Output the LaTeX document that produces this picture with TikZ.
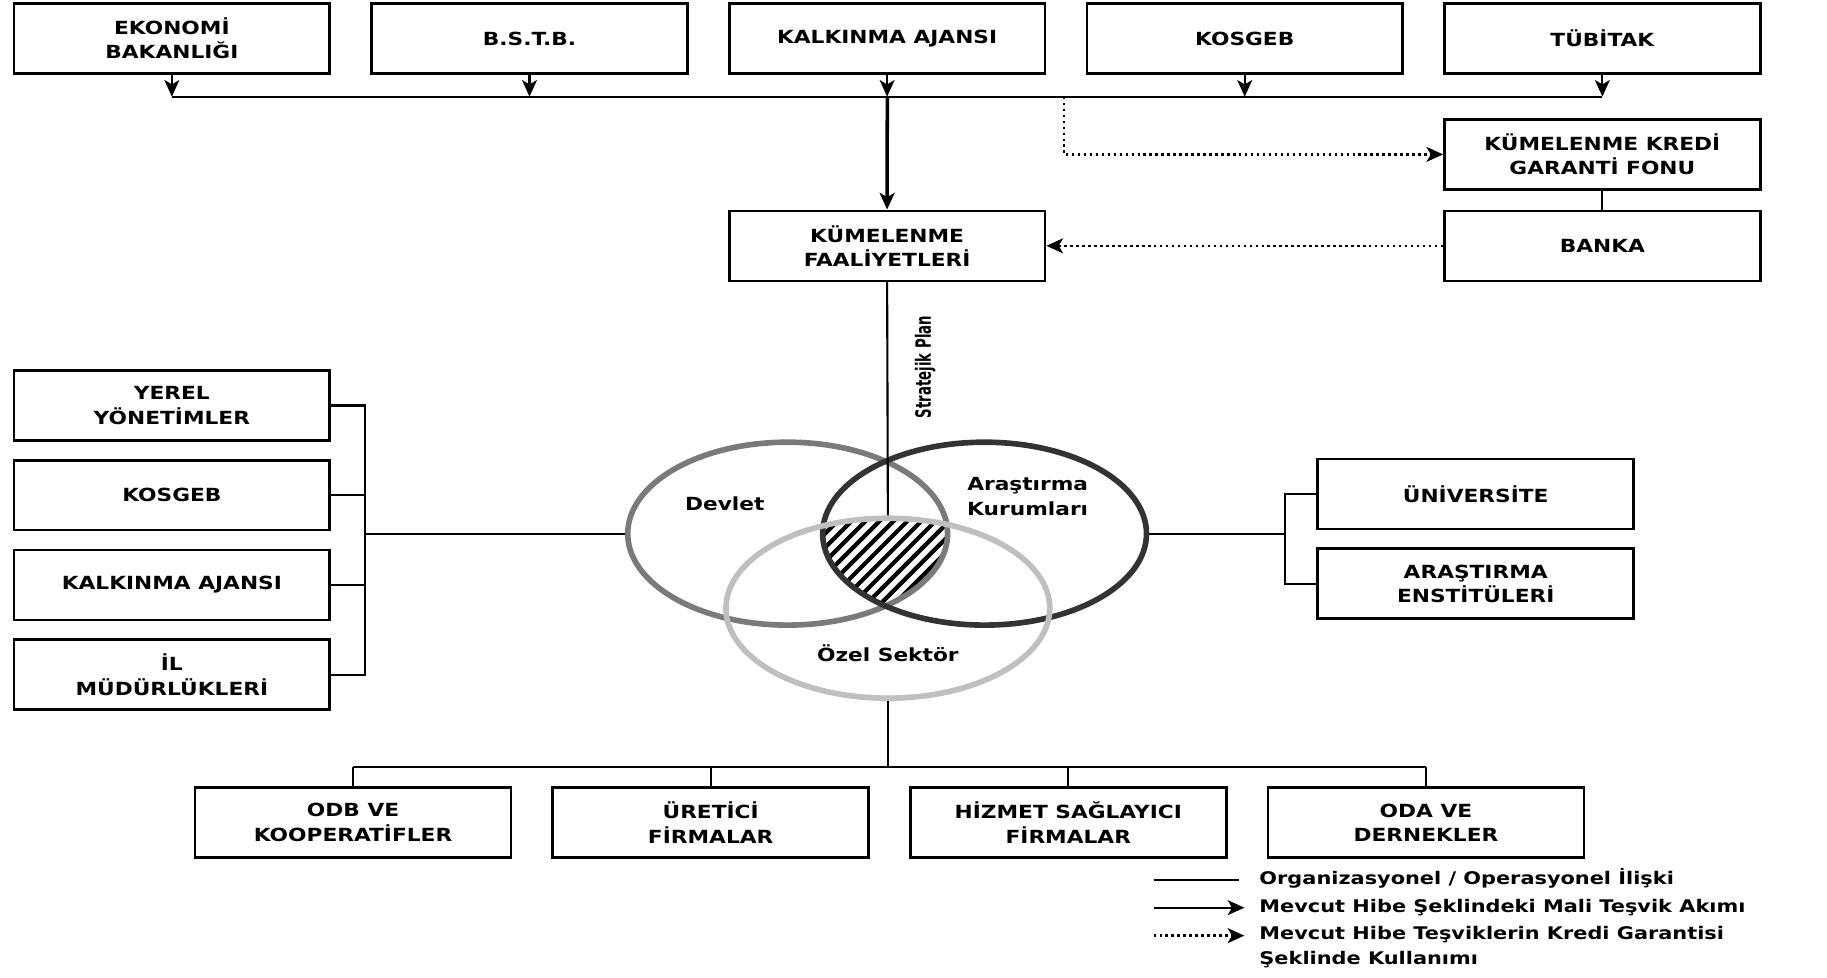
\documentclass[tikz,border=0pt]{standalone}
\usepackage{fontspec}
\newfontfamily\boxfont[FakeStretch=1.2]{DejaVu Sans}
\newfontfamily\planfont[FakeStretch=0.63]{DejaVu Sans}
\usetikzlibrary{arrows.meta,positioning,shapes.geometric}

\begin{document}
\begin{tikzpicture}[x=0.02331cm,y=-0.02331cm,line width=1.2pt,
>={Stealth[length=9.5pt,width=8.5pt,inset=2.5pt]},node distance=7.156cm]
\tikzset{orgbox/.style={draw,line width=1.5pt,minimum width=6.32cm,minimum height=1.4cm,align=center,inner sep=2pt,font=\boxfont\bfseries\fontsize{10.3}{13.9}\selectfont},
venn/.style={ellipse,draw,line width=3.2pt,minimum width=6.4cm,minimum height=3.66cm,inner sep=0pt},
vennlbl/.style={align=center,font=\boxfont\bfseries\fontsize{10.3}{13.9}\selectfont},
legend/.style={anchor=west,inner sep=0pt,text height=1.6ex,text depth=0.45ex,font=\boxfont\bfseries\fontsize{9.9}{12}\selectfont}}

\useasboundingbox (0,0) rectangle (1568,839);

% ust sira
\node[orgbox] (eko) at (147.5,33) {EKONOMİ\\BAKANLIĞI};
\node[orgbox] (bstb) [right of=eko] {B.S.T.B.};
\node[orgbox] (kalk) [right of=bstb] {KALKINMA AJANSI};
\node[orgbox] (kosgeb) [right of=kalk] {KOSGEB};
\node[orgbox] (tubitak) [right of=kosgeb] {TÜBİTAK};

\node[orgbox] (kf) [below of=kalk,node distance=4.15cm] {KÜMELENME\\FAALİYETLERİ};
\node[orgbox] (kkgf) [below of=tubitak,node distance=2.32cm] {KÜMELENME KREDİ\\GARANTİ FONU};
\node[orgbox] (banka) [below of=tubitak,node distance=4.15cm] {BANKA};

% sol ve sag
\node[orgbox] (yerel) at (147.5,348) {YEREL\\YÖNETİMLER};
\node[orgbox] (kosgebil) [below of=yerel,node distance=1.795cm] {KOSGEB};
\node[orgbox] (kalkil) [below of=kosgebil,node distance=1.795cm] {KALKINMA AJANSI};
\node[orgbox] (ilmud) [below of=kalkil,node distance=1.795cm] {İL\\MÜDÜRLÜKLERİ};

\node[orgbox] (univ) at (1266.5,424) {ÜNİVERSİTE};
\node[orgbox] (enst) [below of=univ,node distance=1.795cm] {ARAŞTIRMA\\ENSTİTÜLERİ};

% alt sira
\node[orgbox] (odb) at (303,706) {ODB VE\\KOOPERATİFLER};
\node[orgbox] (uretici) [right of=odb] {ÜRETİCİ\\FİRMALAR};
\node[orgbox] (hizmet) [right of=uretici] {HİZMET SAĞLAYICI\\FİRMALAR};
\node[orgbox] (oda) [right of=hizmet] {ODA VE\\DERNEKLER};

% kesisim
\begin{scope}
\clip (676,458) ellipse [x radius=3.2cm, y radius=1.83cm];
\clip (845,458) ellipse [x radius=3.24cm, y radius=1.83cm];
\clip (762,522) ellipse [x radius=3.24cm, y radius=1.8cm];
\foreach \i in {570,582,...,810}
  \draw[line width=2.4pt] (\i,560) -- ++(150,-150);
\end{scope}

\node[venn,draw=black!52] (devlet) at (676,458) {};
\node[venn,draw=black!80,minimum width=6.48cm] (arastirma) at (845,458) {};
\node[venn,draw=black!25,minimum width=6.48cm,minimum height=3.6cm] (ozel) at (762,522) {};

\node[vennlbl] (devletlbl) at (622,432) {Devlet};
\node[vennlbl] (arlbl) at (882,426) {Araştırma\\Kurumları};
\node[vennlbl] (ozellbl) at (762,561) {Özel Sektör};

% baglantilar
\coordinate (bus) at (761.5,83);
\foreach \n in {eko,bstb,kalk,kosgeb,tubitak}
  \draw[->] (\n.south) -- (\n.south |- bus);
\draw (eko.south |- bus) -- (tubitak.south |- bus);
\draw[->,line width=2pt] (bus) -- (kf.north);

\coordinate (kredi) at (913,83);
\draw[->,dotted,line width=1.4pt] (kredi) |- (kkgf.west);
\draw (kkgf) -- (banka);
\draw[->,dotted,line width=1.4pt] (banka.west) -- (kf.east);

\draw (kf.south) -- (ozel.north);
\node[rotate=90,font=\planfont\bfseries\fontsize{12}{14}\selectfont] (plan) at (794,315) {Stratejik Plan};

\coordinate (sol) at (313,458);
\draw (yerel.east) -| (sol |- ilmud.east) -- (ilmud.east);
\draw (kosgebil.east) -- (kosgebil.east -| sol);
\draw (kalkil.east) -- (kalkil.east -| sol);
\draw (sol) -- (devlet.west);

\coordinate (sag) at (1103,458);
\draw (univ.west) -| (sag |- enst.west) -- (enst.west);
\draw (arastirma.east) -- (sag);

\coordinate (alt) at (762,658);
\draw (ozel.south) -- (alt);
\draw (odb.north |- alt) -- (oda.north |- alt);
\foreach \n in {odb,uretici,hizmet,oda}
  \draw (\n.north |- alt) -- (\n.north);

% aciklama
\node[legend] (leg1) at (1080,755) {Organizasyonel / Operasyonel İlişki};
\node[legend] (leg2) at (1080,779) {Mevcut Hibe Şeklindeki Mali Teşvik Akımı};
\node[legend] (leg3) at (1080,803) {Mevcut Hibe Teşviklerin Kredi Garantisi};
\node[legend] (leg4) at (1080,824) {Şeklinde Kullanımı};
\coordinate (lg1) at (990,755);
\coordinate (lg2) at (990,779);
\coordinate (lg3) at (990,803);
\draw (lg1) -- ([xshift=-11pt]leg1.west);
\draw[->] (lg2) -- ([xshift=-8pt]leg2.west);
\draw[->,dotted,line width=1.4pt] (lg3) -- ([xshift=-8pt]leg3.west);
\end{tikzpicture}
\end{document}
